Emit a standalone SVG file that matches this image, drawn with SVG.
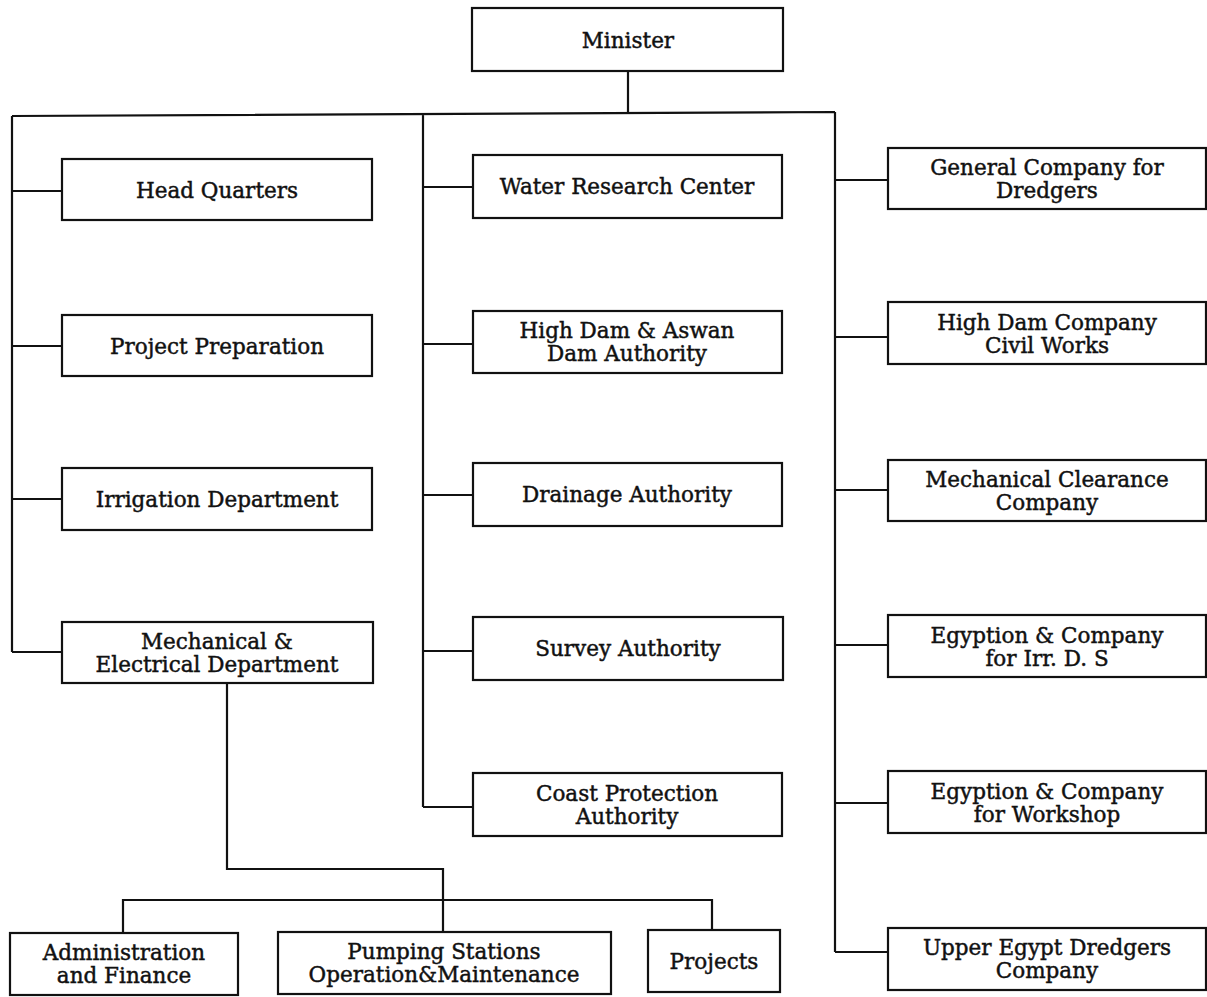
<svg xmlns="http://www.w3.org/2000/svg" width="1207" height="997" viewBox="0 0 1207 997">
<style>
.box{fill:#fff;stroke:#111;stroke-width:2.2}
.ln{fill:none;stroke:#111;stroke-width:2.2}
text{font-family:"DejaVu Serif","Liberation Serif",serif;font-size:21.5px;fill:#111;stroke:#111;stroke-width:0.45;text-anchor:middle}
</style>
<rect width="1207" height="997" fill="#fff"/>
<g id="connectors">
<path class="ln" d="M628 71 V114 M12 116 L835 112 M12 116 V652 M423 115 V807 M835 112 V952"/>
<path class="ln" d="M12 191 H62 M12 346 H62 M12 499 H62 M12 652 H62"/>
<path class="ln" d="M423 187 H473 M423 344 H473 M423 495 H473 M423 651 H473 M423 807 H473"/>
<path class="ln" d="M835 180 H888 M835 337 H888 M835 490 H888 M835 645 H888 M835 803 H888 M835 952 H888"/>
<path class="ln" d="M227 683 V869 H443 V932 M123 933 V900 H712 V930"/>
</g>
<g id="minister"><rect class="box" x="472" y="8" width="311" height="63"/><text x="628" y="48">Minister</text></g>
<g id="head-quarters"><rect class="box" x="62" y="159" width="310" height="61"/><text x="217" y="198">Head Quarters</text></g>
<g id="project-preparation"><rect class="box" x="62" y="315" width="310" height="61"/><text x="217" y="354">Project Preparation</text></g>
<g id="irrigation-department"><rect class="box" x="62" y="468" width="310" height="62"/><text x="217" y="507">Irrigation Department</text></g>
<g id="mech-elec"><rect class="box" x="62" y="622" width="311" height="61"/><text x="217" y="649">Mechanical &amp;</text><text x="217" y="672">Electrical Department</text></g>
<g id="water-research"><rect class="box" x="473" y="155" width="309" height="63"/><text x="627" y="194">Water Research Center</text></g>
<g id="high-dam-aswan"><rect class="box" x="473" y="311" width="309" height="62"/><text x="627" y="338">High Dam &amp; Aswan</text><text x="627" y="361">Dam Authority</text></g>
<g id="drainage"><rect class="box" x="473" y="463" width="309" height="63"/><text x="627" y="502">Drainage Authority</text></g>
<g id="survey"><rect class="box" x="473" y="617" width="310" height="63"/><text x="628" y="656">Survey Authority</text></g>
<g id="coast-protection"><rect class="box" x="473" y="773" width="309" height="63"/><text x="627" y="801">Coast Protection</text><text x="627" y="824">Authority</text></g>
<g id="general-company"><rect class="box" x="888" y="148" width="318" height="61"/><text x="1047" y="175">General Company for</text><text x="1047" y="198">Dredgers</text></g>
<g id="high-dam-company"><rect class="box" x="888" y="302" width="318" height="62"/><text x="1047" y="330">High Dam Company</text><text x="1047" y="353">Civil Works</text></g>
<g id="mechanical-clearance"><rect class="box" x="888" y="460" width="318" height="61"/><text x="1047" y="487">Mechanical Clearance</text><text x="1047" y="510">Company</text></g>
<g id="egyption-irr"><rect class="box" x="888" y="615" width="318" height="62"/><text x="1047" y="643">Egyption &amp; Company</text><text x="1047" y="666">for Irr. D. S</text></g>
<g id="egyption-workshop"><rect class="box" x="888" y="771" width="318" height="62"/><text x="1047" y="799">Egyption &amp; Company</text><text x="1047" y="822">for Workshop</text></g>
<g id="upper-egypt"><rect class="box" x="888" y="928" width="318" height="62"/><text x="1047" y="955">Upper Egypt Dredgers</text><text x="1047" y="978">Company</text></g>
<g id="admin-finance"><rect class="box" x="10" y="933" width="228" height="62"/><text x="124" y="960">Administration</text><text x="124" y="983">and Finance</text></g>
<g id="pumping"><rect class="box" x="278" y="932" width="333" height="62"/><text x="444" y="959">Pumping Stations</text><text x="444" y="982">Operation&amp;Maintenance</text></g>
<g id="projects"><rect class="box" x="648" y="930" width="132" height="62"/><text x="714" y="969">Projects</text></g>
</svg>
